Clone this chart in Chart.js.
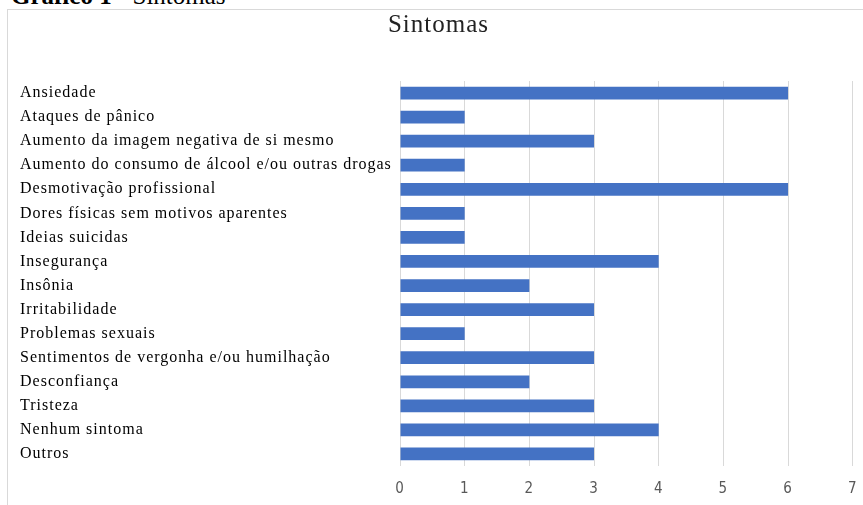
<!DOCTYPE html>
<html>
<head>
<meta charset="utf-8">
<script src="https://cdn.jsdelivr.net/npm/chart.js@4"></script>
<style>
    html, body { margin: 0; padding: 0; background: #fff; overflow: hidden; }
    body { width: 863px; height: 505px; position: relative; }
    .caption {
        position: absolute; left: 11px; top: -17px;
        font-family: 'Liberation Serif', 'Times New Roman', serif;
        font-size: 25px; line-height: 25px; color: #000; white-space: nowrap;
    }
    .frame {
        position: absolute; left: 7px; top: 9px; width: 870px; height: 500px;
        border-left: 1px solid #d9d9d9; border-top: 1px solid #d9d9d9;
    }
    #sintomasChart { position: absolute; left: 7px; top: 9px; }
</style>
</head>
<body>
<div class="caption"><b>Gráfico 1</b> - Sintomas</div>
<div class="frame"></div>
<canvas id="sintomasChart" width="850" height="505"></canvas>
<script>
// Symptom categories, top to bottom
const categories = [
    'Ansiedade',
    'Ataques de pânico',
    'Aumento da imagem negativa de si mesmo',
    'Aumento do consumo de álcool e/ou outras drogas',
    'Desmotivação profissional',
    'Dores físicas sem motivos aparentes',
    'Ideias suicidas',
    'Insegurança',
    'Insônia',
    'Irritabilidade',
    'Problemas sexuais',
    'Sentimentos de vergonha e/ou humilhação',
    'Desconfiança',
    'Tristeza',
    'Nenhum sintoma',
    'Outros'
];
const counts = [6, 1, 3, 1, 6, 1, 1, 4, 2, 3, 1, 3, 2, 3, 4, 3];
const xTicks = [0, 1, 2, 3, 4, 5, 6, 7];

const colors = {
    bar: '#4472c4',
    grid: '#d9d9d9',
    text: '#000000',
    tick: '#595959'
};
const serif = "'Liberation Serif', 'Times New Roman', serif";
const narrow = "'Liberation Sans Narrow', 'DejaVu Sans Condensed', 'Liberation Sans', sans-serif";

// The source text is slightly tracked out; widen all canvas text a bit
const letterSpacing = {
    id: 'letterSpacing',
    beforeDraw: (chart) => { chart.ctx.letterSpacing = '1px'; },
    afterDraw: (chart) => { chart.ctx.letterSpacing = '0px'; }
};

const ctx = document.getElementById('sintomasChart').getContext('2d');
new Chart(ctx, {
    type: 'bar',
    data: {
        labels: categories,
        datasets: [{
            label: 'Sintomas',
            data: counts,
            backgroundColor: colors.bar,
            borderWidth: 0,
            barPercentage: 0.53,
            categoryPercentage: 1
        }]
    },
    options: {
        indexAxis: 'y',
        responsive: false,
        animation: false,
        layout: { padding: { left: 13, right: 0, top: 0, bottom: 16 } },
        plugins: {
            legend: { display: false },
            tooltip: { enabled: false },
            title: {
                display: true,
                text: 'Sintomas',
                color: '#222',
                font: { family: serif, size: 25, weight: 'normal' },
                padding: { top: 1, bottom: 41 }
            }
        },
        scales: {
            x: {
                min: 0,
                max: 7,
                afterBuildTicks: (axis) => { axis.ticks = xTicks.map(v => ({ value: v })); },
                // invisible tick marks give the gap under the bars
                // (tick padding would also eat space on the right)
                grid: { color: colors.grid, drawTicks: true, tickLength: 14, tickColor: 'rgba(0,0,0,0)' },
                border: { display: false },
                ticks: {
                    color: colors.tick,
                    font: { family: narrow, size: 15 },
                    padding: 0,
                    maxRotation: 0
                }
            },
            y: {
                grid: { display: false },
                border: { display: false },
                afterFit: (axis) => { axis.width = 380; },
                ticks: {
                    crossAlign: 'far',
                    color: colors.text,
                    font: { family: serif, size: 16 },
                    autoSkip: false
                }
            }
        }
    },
    plugins: [letterSpacing]
});
</script>
</body>
</html>
